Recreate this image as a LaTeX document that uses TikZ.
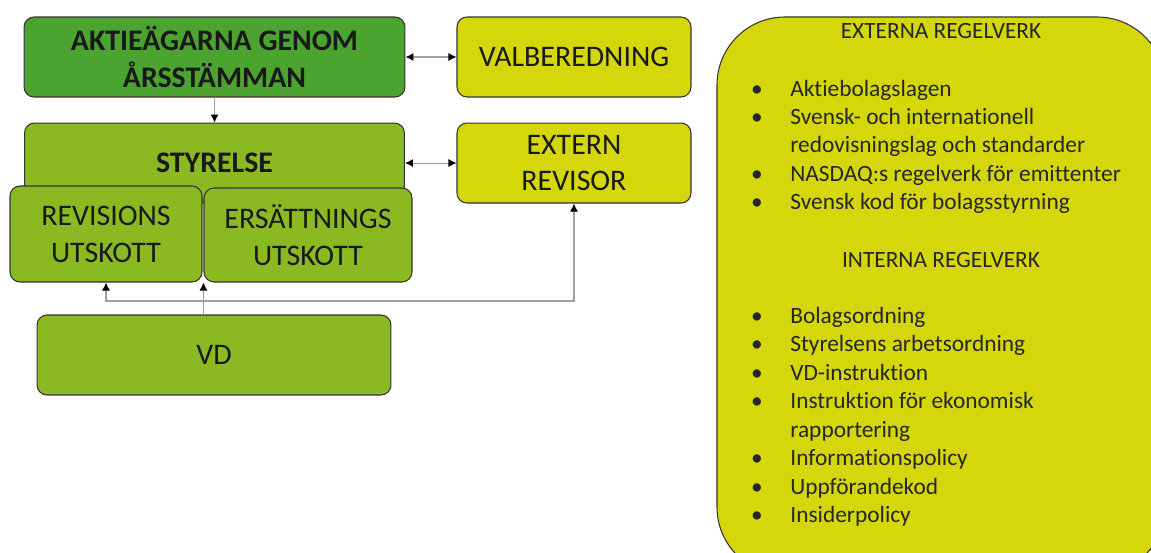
\documentclass[tikz,border=0pt]{standalone}
\usepackage{fontspec}
\setmainfont[Ligatures=NoCommon]{Carlito}
\usetikzlibrary{positioning,arrows.meta}
\definecolor{darkgreen}{HTML}{4BA42F}
\definecolor{leafgreen}{HTML}{8BB921}
\definecolor{lime}{HTML}{D5D70B}
\tikzset{
     arrow/.style={draw=gray!75, line width=0.6pt, -{Latex[length=1.6mm,width=1.6mm,color=black]}},
     dblarrow/.style={draw=gray!75, line width=0.6pt, {Latex[length=1.6mm,width=1.6mm,color=black]}-{Latex[length=1.6mm,width=1.6mm,color=black]}},
     box/.style={draw=black!80, line width=0.6pt, rounded corners=0.2cm, align=center, inner sep=0pt, text=black!90, font=\fontsize{17}{21}\selectfont},
     regel/.style={anchor=west, inner sep=0pt, text=black!85, font=\fontsize{13.3}{16}\selectfont, text height=1.5ex, text depth=0.5ex}
     }

\begin{document}
\begin{tikzpicture}[x=0.02cm,y=-0.02cm]
                    \useasboundingbox (0,0) rectangle (1151,553);
                    \clip (0,0) rectangle (1151,553);
                    % Place nodes
                    \node [box, fill=darkgreen, minimum width=7.62cm, minimum height=1.6cm, font=\fontsize{17}{21}\selectfont\bfseries] (aktie) at (214.5,57) {AKTIEÄGARNA GENOM\\ÅRSSTÄMMAN};
                    \node [box, fill=lime, minimum width=4.68cm, minimum height=1.6cm, right=1.02cm of aktie] (valb) {VALBEREDNING};
                    \node [box, fill=leafgreen, minimum width=7.6cm, minimum height=1.6cm, below=0.5cm of aktie, font=\fontsize{17}{21}\selectfont\bfseries] (styr) {STYRELSE};
                    \node [box, fill=lime, minimum width=4.68cm, minimum height=1.6cm, below=0.5cm of valb] (extrev) {EXTERN\\REVISOR};
                    \node [box, fill=leafgreen, minimum width=3.84cm, minimum height=1.92cm] (rev) at (106,234) {REVISIONS\\UTSKOTT};
                    \node [box, fill=leafgreen, minimum width=4.16cm, minimum height=1.88cm] (ers) at (308,235) {ERSÄTTNINGS\\UTSKOTT};
                    \node [box, fill=leafgreen, minimum width=7.08cm, minimum height=1.6cm] (vd) at (214,355) {VD};
                    \coordinate (bus) at (0,301);
                    % Draw edges
                    \draw[arrow] (aktie) -- (styr);
                    \draw[dblarrow] (aktie) -- (valb);
                    \draw[dblarrow] (styr) -- (extrev);
                    \draw[arrow] (ers.south west |- vd.north) -- (ers.south west);
                    \draw[arrow] (ers.south west |- bus) -| (rev.south);
                    \draw[arrow] (ers.south west |- bus) -| (extrev.south);
                    % Regelverk
                    \draw[draw=black!80, line width=0.6pt, fill=lime, rounded corners=1.36cm] (717,17) rectangle (1165,575);
                    \node [regel, anchor=center] (extern) at (941,34) {EXTERNA REGELVERK};
                    \node [regel, anchor=center] (intern) at (941,263) {INTERNA REGELVERK};
                    \foreach \b/\txt [count=\i from 0] in {1/Aktiebolagslagen, 1/Svensk- och internationell, 0/redovisningslag och standarder, 1/NASDAQ:s regelverk för emittenter, 1/Svensk kod för bolagsstyrning}
                    {
                        \node [regel, anchor=center] (extb\i) at (757,{92+28.4*\i}) {\ifnum\b=1 \textbullet\fi};
                        \node [regel] (ext\i) at (790,{92+28.4*\i}) {\txt};
                    }
                    \foreach \b/\txt [count=\i from 0] in {1/Bolagsordning, 1/Styrelsens arbetsordning, 1/VD-instruktion, 1/Instruktion för ekonomisk, 0/rapportering, 1/Informationspolicy, 1/Uppförandekod, 1/Insiderpolicy}
                    {
                        \node [regel, anchor=center] (intb\i) at (757,{319+28.5*\i}) {\ifnum\b=1 \textbullet\fi};
                        \node [regel] (int\i) at (790,{319+28.5*\i}) {\txt};
                    }
                \end{tikzpicture}
\end{document}
